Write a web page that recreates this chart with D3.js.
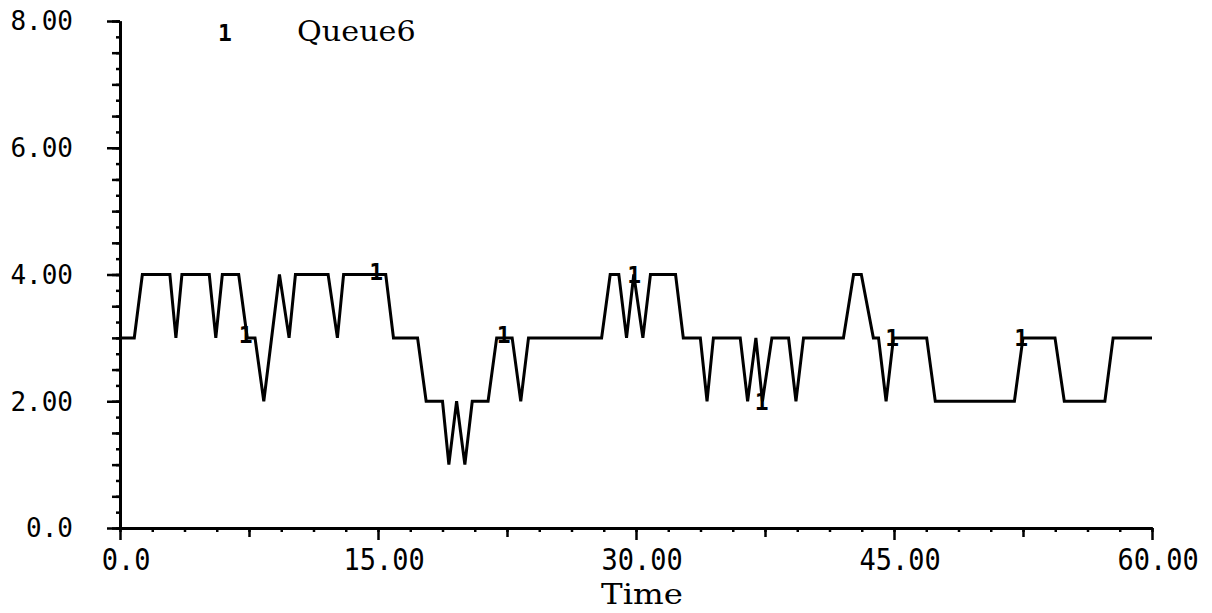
<!DOCTYPE html>
<html>
<head>
<meta charset="utf-8">
<script src="https://cdn.jsdelivr.net/npm/d3@7"></script>
<style>
  body { margin: 0; background: #fff; }
  svg { display: block; }
</style>
</head>
<body>
<div id="chart"></div>
<script>
// breakpoints of the Queue6 trace
const times = [0, 0.83, 1.3, 2.9, 3.25, 3.6, 5.19, 5.57, 5.95, 6.9, 7.4, 7.85, 8.36, 9.27, 9.83, 10.2,
  12.1, 12.64, 13.0, 15.45, 15.9, 17.3, 17.8, 18.75, 19.12, 19.57, 20.05, 20.48, 21.4, 21.9,
  22.8, 23.3, 23.75, 28.0, 28.5, 29.0, 29.45, 29.87, 30.4, 30.84, 32.3, 32.75, 33.74, 34.13,
  34.5, 36.06, 36.49, 36.97, 37.35, 37.9, 38.87, 39.3, 39.74, 42.06, 42.65, 43.1, 43.8, 44.1,
  44.54, 44.97, 46.9, 47.4, 52.0, 52.5, 54.36, 54.9, 57.26, 57.74, 60];
const queue6 = [3, 3, 4, 4, 3, 4, 4, 3, 4, 4, 3, 3, 2, 4, 3, 4,
  4, 3, 4, 4, 3, 3, 2, 2, 1, 2, 1, 2, 2, 3,
  3, 2, 3, 3, 4, 4, 3, 4, 3, 4, 4, 3, 3, 2,
  3, 3, 2, 3, 2, 3, 3, 2, 3, 3, 4, 4, 3, 3,
  2, 3, 3, 2, 2, 3, 3, 2, 2, 3, 3];

// "1" series markers
const markerTimes = [7.3, 14.9, 22.3, 29.9, 37.3, 44.9, 52.4];
const markerValues = [3.05, 4.05, 3.05, 4.0, 2.0, 3.0, 3.0];

const xTickValues = [0, 15, 30, 45, 60];
const xTickLabels = ["0.0", "15.00", "30.00", "45.00", "60.00"];
const yTickValues = [0, 2, 4, 6, 8];
const yTickLabels = ["0.0", "2.00", "4.00", "6.00", "8.00"];

const seriesName = "Queue6";
const xTitle = "Time";

const width = 1212;
const height = 613;
const margin = { top: 21, right: 60, bottom: 85, left: 120 };

const svg = d3.select("#chart")
  .append("svg")
  .attr("width", width)
  .attr("height", height);

const X = d3.scaleLinear().domain([0, 60]).range([margin.left, width - margin.right]);
const Y = d3.scaleLinear().domain([0, 8]).range([height - margin.bottom, margin.top]);

const monoFont = "'DejaVu Sans Mono', monospace";
const serifFont = "'DejaVu Serif', serif";

// three tick levels per axis
function xAxis(values, size) {
  return d3.axisBottom(X).tickValues(values).tickSize(size).tickSizeOuter(0).tickFormat("");
}
function yAxis(values, size) {
  return d3.axisLeft(Y).tickValues(values).tickSize(size).tickSizeOuter(0).tickFormat("");
}

const xg = svg.append("g").attr("transform", `translate(0,${Y(0)})`);
xg.append("g").call(xAxis(d3.range(0, 60.001, 1.875), 4));
xg.append("g").call(xAxis([7.5, 22.5, 37.5, 52.5], 9));
xg.append("g").call(xAxis(xTickValues, 12));

const yg = svg.append("g").attr("transform", `translate(${X(0)},0)`);
yg.append("g").call(yAxis(d3.range(0, 8.001, 0.25), 4));
yg.append("g").call(yAxis(d3.range(0, 8.001, 0.5), 8));
yg.append("g").call(yAxis(yTickValues, 13));

svg.selectAll(".domain").attr("stroke", "#000").attr("stroke-width", 3);
svg.selectAll(".tick line").attr("stroke", "#000").attr("stroke-width", 2.5);

// tick labels
svg.append("g")
  .selectAll("text")
  .data(xTickValues)
  .join("text")
  .attr("transform", (d) => `translate(${X(d) + 6},${Y(0) + 42}) scale(1,1.12)`)
  .attr("text-anchor", "middle")
  .attr("font-family", monoFont)
  .attr("font-size", 27)
  .attr("fill", "#000")
  .text((d, i) => xTickLabels[i]);

svg.append("g")
  .selectAll("text")
  .data(yTickValues)
  .join("text")
  .attr("x", 73)
  .attr("y", (d) => Y(d))
  .attr("dy", "0.36em")
  .attr("text-anchor", "end")
  .attr("font-family", monoFont)
  .attr("font-size", 26)
  .attr("fill", "#000")
  .text((d, i) => yTickLabels[i]);

svg.append("text")
  .attr("transform", "translate(642,604) scale(1.2,1)")
  .attr("text-anchor", "middle")
  .attr("font-family", serifFont)
  .attr("font-size", 27)
  .attr("fill", "#000")
  .text(xTitle);

// data line
const data = times.map((t, i) => ({ t, v: queue6[i] }));
svg.append("path")
  .datum(data)
  .attr("fill", "none")
  .attr("stroke", "#000")
  .attr("stroke-width", 3)
  .attr("stroke-linejoin", "miter")
  .attr("d", d3.line().x((d) => X(d.t)).y((d) => Y(d.v)));

// markers
svg.append("g")
  .selectAll("text")
  .data(markerTimes)
  .join("text")
  .attr("x", (d) => X(d))
  .attr("y", (d, i) => Y(markerValues[i]))
  .attr("dy", "0.36em")
  .attr("text-anchor", "middle")
  .attr("font-family", monoFont)
  .attr("font-weight", "bold")
  .attr("font-size", 23)
  .attr("fill", "#000")
  .text("1");

// legend
const legend = svg.append("g");
legend.append("text")
  .attr("x", 225)
  .attr("y", 33)
  .attr("text-anchor", "middle")
  .attr("dy", "0.36em")
  .attr("font-family", monoFont)
  .attr("font-weight", "bold")
  .attr("font-size", 23)
  .text("1");
legend.append("text")
  .attr("transform", "translate(297,41) scale(1.12,1)")
  .attr("font-family", serifFont)
  .attr("font-size", 27)
  .text(seriesName);
</script>
</body>
</html>
